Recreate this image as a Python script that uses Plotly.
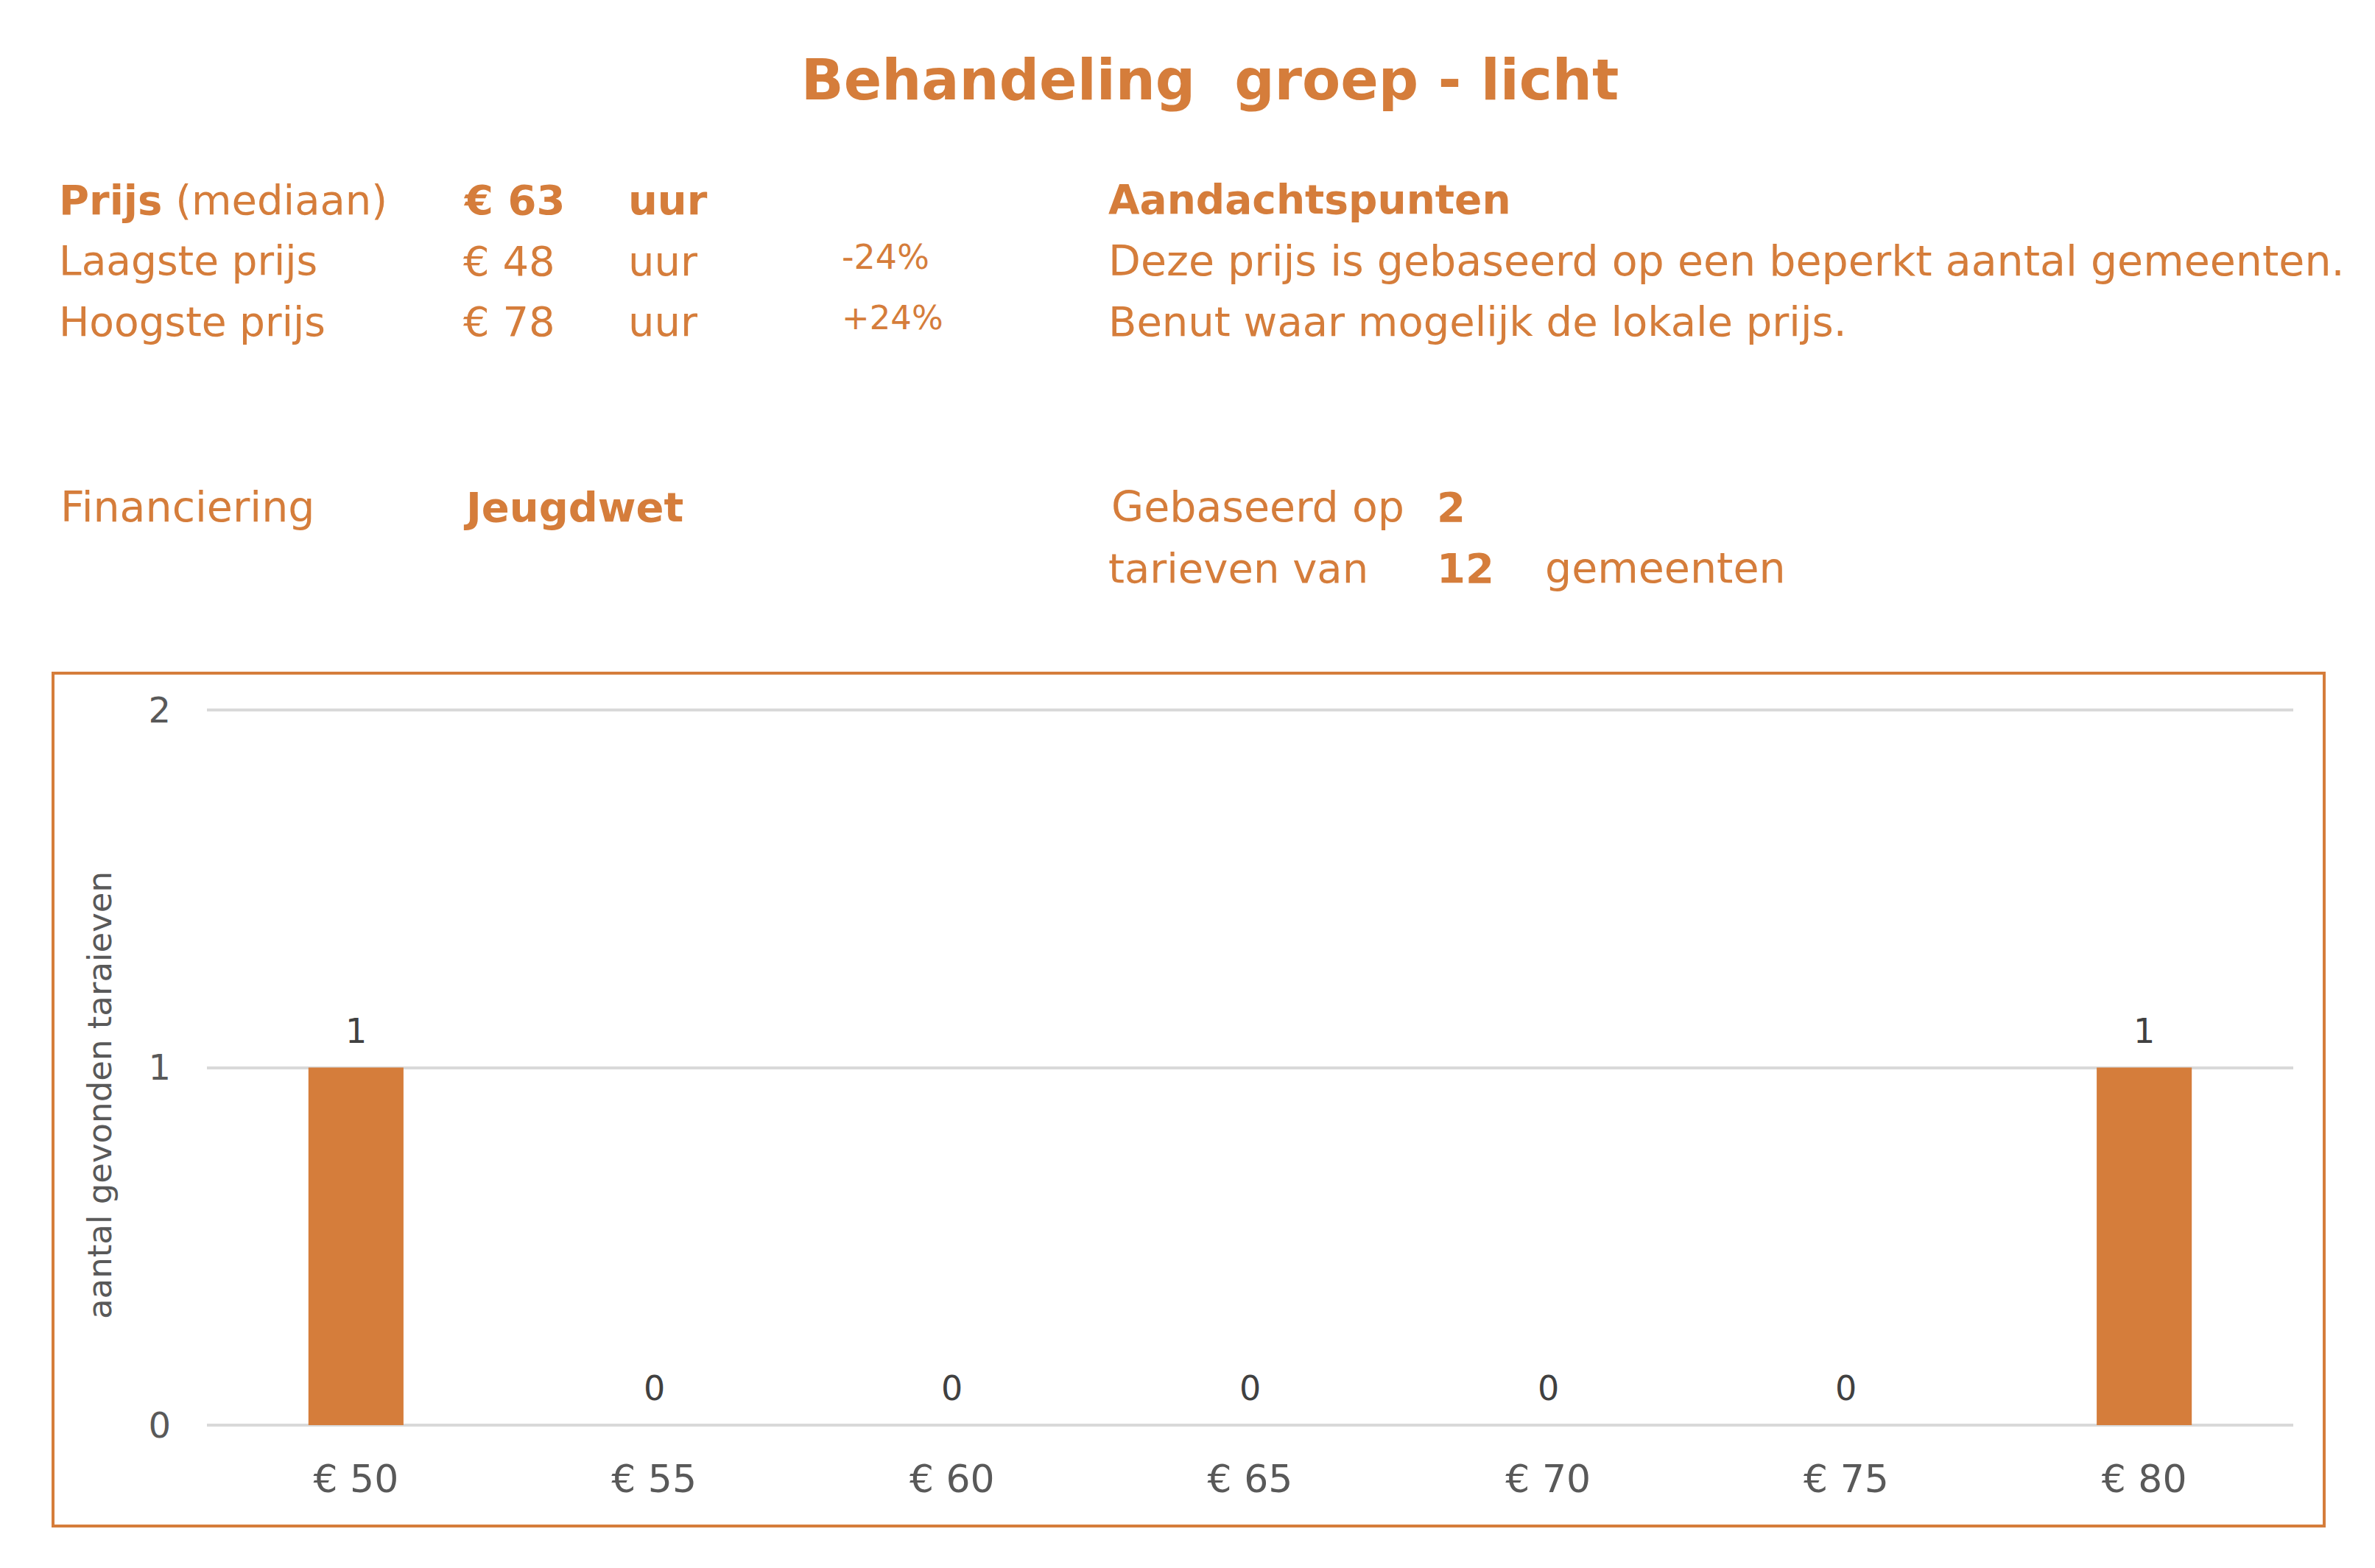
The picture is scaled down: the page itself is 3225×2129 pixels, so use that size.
import plotly.graph_objects as go

# ---------------- data ----------------
categories = ["€ 50", "€ 55", "€ 60", "€ 65", "€ 70", "€ 75", "€ 80"]
counts = [1, 0, 0, 0, 0, 0, 1]
y_ticks = [0, 1, 2]

title_text = "Behandeling  groep - licht"
price_median = 63
price_low = 48
price_high = 78
pct_low = "-24%"
pct_high = "+24%"
unit = "uur"
financing = "Jeugdwet"
n_tarieven = 2
n_gemeenten = 12
notes = ["Deze prijs is gebaseerd op een beperkt aantal gemeenten.",
         "Benut waar mogelijk de lokale prijs."]
y_title = "aantal gevonden taraieven"

# ---------------- layout geometry ----------------
PAGE_W, PAGE_H = 3225, 2129
OFF = 8                       # default body margin of the html page
W, H = PAGE_W - 2 * OFF, PAGE_H - 2 * OFF
# plot area in page pixels (slightly padded so edge gridlines are drawn)
PL, PR, PT, PB = 281, 3114, 962, 1937
L, R, T, B = PL - OFF, PR - OFF, PT - OFF, PB - OFF
Y_RANGE = [-0.004, 2.004]

ORANGE = "#D57D3B"
GREY_TXT = "#595959"
DARK_TXT = "#404040"
FONT = "DejaVu Sans"


def xp(px):
    return (px - OFF - L) / (R - L)


def yp(py):
    return (B - (py - OFF)) / (B - T)


fig = go.Figure()
fig.add_trace(go.Bar(
    x=categories, y=counts,
    marker=dict(color=ORANGE, line=dict(width=0)),
    hoverinfo="skip",
))

annotations = []


def txt(text, x, y, size=56, color=ORANGE, anchor="left"):
    annotations.append(dict(
        text=text, x=xp(x), y=yp(y), xref="paper", yref="paper",
        xanchor=anchor, yanchor="middle", showarrow=False,
        font=dict(family=FONT, size=size, color=color),
    ))


# header block
txt("<b>Prijs</b> (mediaan)", 78, 271)
txt(f"<b>€ {price_median}</b>", 627, 271)
txt(f"<b>{unit}</b>", 851, 271)
txt("<b>Aandachtspunten</b>", 1503, 271, size=55)

txt("Laagste prijs", 78, 354, size=55)
txt(f"€ {price_low}", 627, 354)
txt(unit, 851, 354)
txt(pct_low, 1141, 349, size=46)
txt(notes[0], 1503, 354, size=57)

txt("Hoogste prijs", 78, 437, size=55)
txt(f"€ {price_high}", 627, 437)
txt(unit, 851, 437)
txt(pct_high, 1141, 432, size=45)
txt(notes[1], 1503, 437, size=56)

txt("Financiering", 80, 688, size=57)
txt(f"<b>{financing}</b>", 627, 688)
txt("Gebaseerd op", 1507, 688, size=57)
txt(f"<b>{n_tarieven}</b>", 1949, 688)
txt("tarieven van", 1503, 771)
txt(f"<b>{n_gemeenten}</b>", 1949, 771)
txt("gemeenten", 2096, 771, size=57)

# y axis title
annotations.append(dict(
    text=y_title, x=xp(135), y=yp(1487), xref="paper", yref="paper",
    xanchor="center", yanchor="middle", showarrow=False, textangle=-90,
    font=dict(family=FONT, size=45, color=GREY_TXT),
))

# data labels
for c, v in zip(categories, counts):
    annotations.append(dict(
        text=str(v), x=c, y=v, xref="x", yref="y",
        xanchor="center", yanchor="middle", yshift=50, showarrow=False,
        font=dict(family=FONT, size=46, color=DARK_TXT),
    ))

shapes = [
    # orange frame around chart
    dict(type="rect", xref="paper", yref="paper",
         x0=xp(72), x1=xp(3156), y0=yp(2072), y1=yp(914),
         line=dict(color=ORANGE, width=4), fillcolor="rgba(0,0,0,0)", layer="below"),
]

fig.update_layout(
    width=W, height=H,
    margin=dict(l=L, r=W - R, t=T, b=H - B, pad=0),
    paper_bgcolor="white", plot_bgcolor="white",
    showlegend=False,
    bargap=0.681,
    title=dict(text=f"<b>{title_text}</b>", x=(1643 - OFF) / W, xref="container",
               xanchor="center", y=1 - (108 - OFF) / H, yref="container", yanchor="middle",
               font=dict(family=FONT, size=76, color=ORANGE)),
    xaxis=dict(showline=False, showgrid=False, zeroline=False, ticks="",
               tickfont=dict(family=FONT, size=52, color=GREY_TXT),
               ticklabelstandoff=36, fixedrange=True),
    yaxis=dict(range=Y_RANGE, tickvals=y_ticks, showline=False, zeroline=False,
               showgrid=True, gridcolor="#D9D9D9", gridwidth=4, ticks="",
               tickfont=dict(family=FONT, size=48, color=GREY_TXT),
               ticklabelstandoff=48, fixedrange=True),
    annotations=annotations,
    shapes=shapes,
)

fig.write_html("out.html")
